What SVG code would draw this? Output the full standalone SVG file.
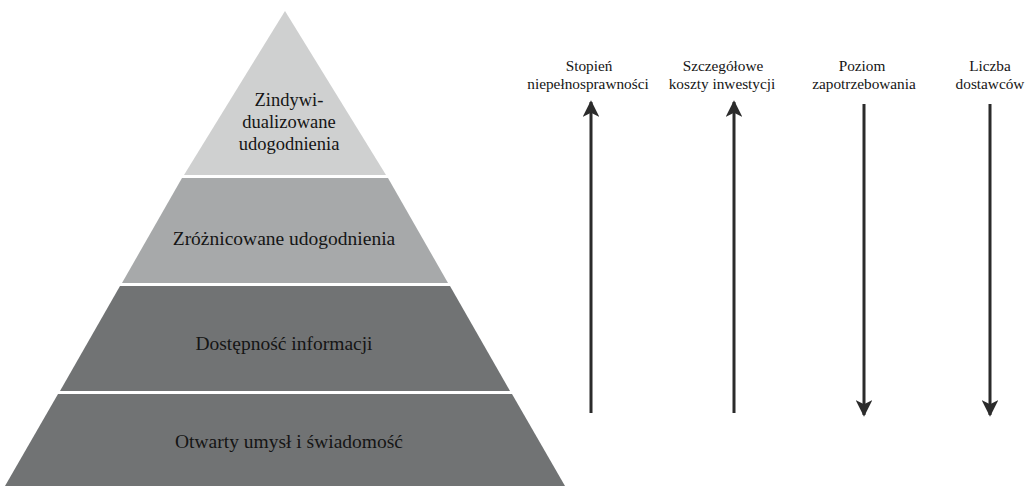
<svg xmlns="http://www.w3.org/2000/svg" width="1028" height="486" viewBox="0 0 1028 486">
<style>
.lvl{font-family:"Liberation Serif","Times New Roman",serif;font-size:19.5px;fill:#151515;text-anchor:middle}
.top{font-size:18.5px}
.lab{font-family:"Liberation Serif","Times New Roman",serif;font-size:15.3px;fill:#151515;text-anchor:middle}
.arr{stroke:#2b2b2b;stroke-width:3;fill:none}
</style>
<defs>
<marker id="ah" viewBox="0 0 10 10" refX="9" refY="5" markerWidth="5.5" markerHeight="5.5" markerUnits="strokeWidth" orient="auto">
<path d="M0,0 L10,5 L0,10 L2.5,5 Z" fill="#2b2b2b"/>
</marker>
</defs>
<rect width="1028" height="486" fill="#ffffff"/>
<g id="level-top">
<polygon points="285,11 386,175 184,175" fill="#cfd0d0"/>
<text class="lvl top" x="289" y="106">Zindywi-</text>
<text class="lvl top" x="289" y="128">dualizowane</text>
<text class="lvl top" x="289" y="150">udogodnienia</text>
</g>
<g id="level-2">
<polygon points="182,178 388,178 448,283 122,283" fill="#a7a9aa"/>
<text class="lvl" x="284" y="245">Zróżnicowane udogodnienia</text>
</g>
<g id="level-3">
<polygon points="120,286 450,286 510,391 60,391" fill="#717374"/>
<text class="lvl" x="284" y="350">Dostępność informacji</text>
</g>
<g id="level-4">
<polygon points="58,394 512,394 565,486 5,486" fill="#717374"/>
<text class="lvl" x="289" y="448">Otwarty umysł i świadomość</text>
</g>
<g id="label-1">
<text class="lab" x="589" y="71">Stopień</text>
<text class="lab" x="588" y="89">niepełnosprawności</text>
</g>
<g id="label-2">
<text class="lab" x="723" y="71">Szczegółowe</text>
<text class="lab" x="722" y="89">koszty inwestycji</text>
</g>
<g id="label-3">
<text class="lab" x="862" y="71">Poziom</text>
<text class="lab" x="864" y="89">zapotrzebowania</text>
</g>
<g id="label-4">
<text class="lab" x="990" y="71">Liczba</text>
<text class="lab" x="990" y="89">dostawców</text>
</g>
<g id="connectors">
<line class="arr" x1="591" y1="413" x2="591" y2="102" marker-end="url(#ah)"/>
<line class="arr" x1="734" y1="413" x2="734" y2="102" marker-end="url(#ah)"/>
<line class="arr" x1="864" y1="104" x2="864" y2="415" marker-end="url(#ah)"/>
<line class="arr" x1="990" y1="104" x2="990" y2="415" marker-end="url(#ah)"/>
</g>
</svg>
